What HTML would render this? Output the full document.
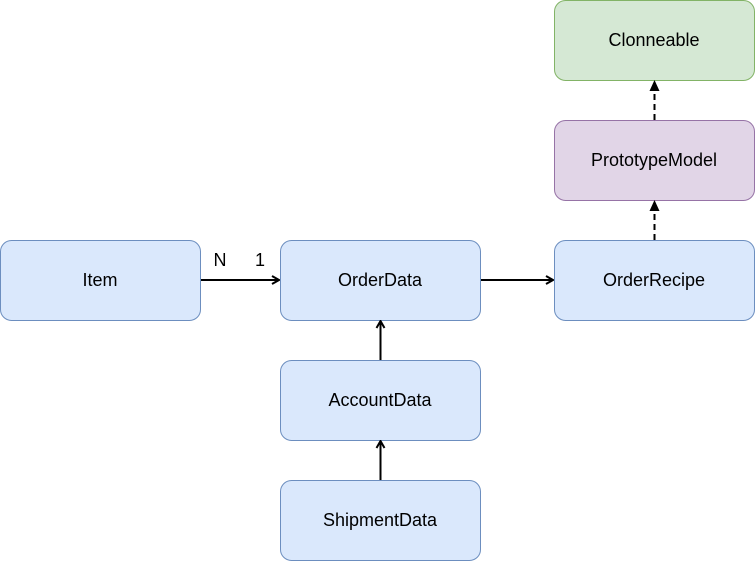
<!DOCTYPE html>
<html><head><style>
body{margin:0;background:#fff;width:755px;height:561px;overflow:hidden;font-family:"Liberation Sans",sans-serif;}
</style></head><body>
<svg width="755" height="561" xmlns="http://www.w3.org/2000/svg" font-family="Liberation Sans, sans-serif" font-size="18">
<defs>
<marker id="o" markerWidth="10" markerHeight="10" refX="9" refY="5" orient="auto" markerUnits="userSpaceOnUse"><path d="M2,1 L9,5 L2,9" fill="none" stroke="#000" stroke-width="2"/></marker>
<marker id="f" markerWidth="12" markerHeight="12" refX="10" refY="6" orient="auto" markerUnits="userSpaceOnUse"><path d="M0,1 L11,6 L0,11 Z" fill="#000"/></marker>
</defs>
<g stroke-width="1">
<rect x="0.5" y="240.5" width="200" height="80" rx="11" fill="#dae8fc" stroke="#6c8ebf"/>
<rect x="280.5" y="240.5" width="200" height="80" rx="11" fill="#dae8fc" stroke="#6c8ebf"/>
<rect x="554.5" y="240.5" width="200" height="80" rx="11" fill="#dae8fc" stroke="#6c8ebf"/>
<rect x="280.5" y="360.5" width="200" height="80" rx="11" fill="#dae8fc" stroke="#6c8ebf"/>
<rect x="280.5" y="480.5" width="200" height="80" rx="11" fill="#dae8fc" stroke="#6c8ebf"/>
<rect x="554.5" y="120.5" width="200" height="80" rx="11" fill="#e1d5e7" stroke="#9673a6"/>
<rect x="554.5" y="0.5" width="200" height="80" rx="11" fill="#d5e8d4" stroke="#82b366"/>
</g>
<g stroke="#000" stroke-width="2" fill="none">
<line x1="201" y1="280" x2="279" y2="280" marker-end="url(#o)"/>
<line x1="481" y1="280" x2="553" y2="280" marker-end="url(#o)"/>
<line x1="380.5" y1="360" x2="380.5" y2="321" marker-end="url(#o)"/>
<line x1="380.5" y1="480" x2="380.5" y2="441" marker-end="url(#o)"/>
<line x1="654.5" y1="240" x2="654.5" y2="201" stroke-dasharray="6,4" marker-end="url(#f)"/>
<line x1="654.5" y1="120" x2="654.5" y2="81" stroke-dasharray="6,4" marker-end="url(#f)"/>
</g>
<g text-anchor="middle" fill="#000">
<text x="100" y="286">Item</text>
<text x="380" y="286">OrderData</text>
<text x="654" y="286">OrderRecipe</text>
<text x="380" y="406">AccountData</text>
<text x="380" y="526">ShipmentData</text>
<text x="654" y="166">PrototypeModel</text>
<text x="654" y="46">Clonneable</text>
<text x="220" y="266">N</text>
<text x="260" y="266">1</text>
</g>
</svg>
</body></html>
